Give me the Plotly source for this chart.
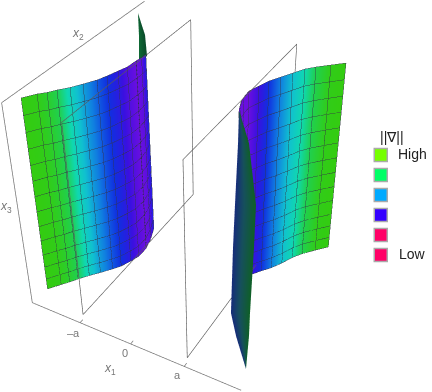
import numpy as np
import plotly.graph_objects as go

# ---- values (logical coordinates: box is [-1,1]^3, a = 0.5)
a_tick = 0.5
tick_values = [-0.5, 0.0, 0.5]
tick_labels = ["\u2013a", "0", "a"]

left_x1 = [-1.033,-0.962,-0.907,-0.862,-0.795,-0.737,-0.676,-0.642,-0.609,-0.580,-0.572,-0.562,-0.560]
left_x2 = [-0.749,-0.643,-0.589,-0.522,-0.443,-0.351,-0.247,-0.157,-0.047,0.046,0.166,0.233,0.297]
left_top = [0.9]*13
left_bot = [-1.061,-1.063,-1.052,-1.05,-1.043,-1.055,-1.068,-1.088,-1.10,-1.10,-1.09,-1.028,-0.938]
left_grad = [1.0,0.98,0.93,0.85,0.68,0.52,0.38,0.30,0.20,0.08,0.0,0.05,0.25]

right_x1 = [0.945,0.851,0.758,0.694,0.636,0.579,0.523,0.487,0.453,0.459,0.472,0.51]
right_x2 = [0.919,0.832,0.746,0.674,0.57,0.467,0.366,0.259,0.155,0.056,-0.02,-0.13]
right_top = [0.9]*12
right_bot = [-1.024,-1.036,-1.052,-1.068,-1.08,-1.08,-1.064,-1.031,-0.999,-0.952,-0.92,-0.872]
right_grad = [1.0,0.98,0.85,0.72,0.60,0.45,0.30,0.15,0.0,0.0,0.0,0.0]

row_fractions = [0,.08,.16,.24,.32,.40,.48,.56,.64,.72,.80,.87,.94,1]

fold_x1_a = [0.641,0.639,0.624,0.614,0.606,0.657,0.758]
fold_x3_a = [1.083,0.805,0.241,-0.175,-0.887,-1.129,-1.475]
fold_x1_b = [0.641,0.725,0.797,0.793,0.778,0.776,0.758]
fold_x3_b = [1.083,0.832,0.304,-0.103,-0.807,-1.07,-1.475]
fold_x2 = -0.4

tip_x1_a = [-0.881,-0.882,-0.895]
tip_x3_a = [1.035,0.824,0.574]
tip_x1_b = [-0.881,-0.819,-0.808]
tip_x3_b = [1.035,0.839,0.635]
tip_x2 = 0.7

legend_colors = ["#76ff00", "#00ff66", "#00aaff", "#3300ff", "#ff0066", "#ff0066"]
legend_labels = ["High", "", "", "", "", "Low"]
legend_rank = [5, 4, 3, 2, 1, 0]

# ---- view of the box
cam_rot = (-0.52776, -4.12113, -0.02129)
cam_t = np.array([0.05056, 0.26334, 7.3422])
cam_f, cam_cx, cam_cy = 884.39123, 182.9741, 148.68024
W, H = 432, 392
fp = (H / 2) / np.tan(np.pi / 8)
k = 2 / cam_t[2]

def _rot(a, b, c):
    ca, sa, cb, sb, cc, sc = np.cos(a), np.sin(a), np.cos(b), np.sin(b), np.cos(c), np.sin(c)
    Rz = np.array([[ca, -sa, 0], [sa, ca, 0], [0, 0, 1]])
    Rx = np.array([[1, 0, 0], [0, cb, -sb], [0, sb, cb]])
    Rr = np.array([[cc, -sc, 0], [sc, cc, 0], [0, 0, 1]])
    return Rr @ Rx @ Rz
R = _rot(*cam_rot)

def scene_xyz(x1, x2, x3, nudge=1.0):
    P = np.stack([np.asarray(x1, float), np.asarray(x2, float), np.asarray(x3, float)], -1)
    C = (P @ R.T + cam_t) * nudge
    X = (k / fp) * (cam_f * C[..., 0] + (cam_cx - W / 2) * C[..., 2])
    Y = -(k / fp) * (cam_f * C[..., 1] + (cam_cy - H / 2) * C[..., 2])
    Z = 2 - k * C[..., 2]
    return X, Y, Z

sheet_scale = [[0, "#6a0fe0"], [.15, "#3a10e0"], [.3, "#1030e0"], [.45, "#1080e0"],
               [.6, "#10c0d0"], [.72, "#10d8b0"], [.85, "#20d050"], [1, "#33cc11"]]
FLAT = dict(ambient=1, diffuse=0, specular=0, roughness=1, fresnel=0)

def surf(x1, x2, x3, c, scale, cmin=0, cmax=1, **kw):
    X, Y, Z = scene_xyz(x1, x2, x3)
    return go.Surface(x=X, y=Y, z=Z, surfacecolor=c, colorscale=scale, cmin=cmin, cmax=cmax,
                      showscale=False, lighting=FLAT, hoverinfo="skip", **kw)

def sheet_grid(x1, x2, top, bot, grad):
    f = np.array(row_fractions)[:, None]
    x1, x2, top, bot, grad = map(np.array, (x1, x2, top, bot, grad))
    n = len(f)
    return (np.tile(x1, (n, 1)), np.tile(x2, (n, 1)), top + (bot - top) * f, np.tile(grad, (n, 1)))

def mesh_lines(g1, g2, g3):
    xs, ys, zs = [], [], []
    for A, B, C in ((g1, g2, g3), (g1.T, g2.T, g3.T)):
        for i in range(A.shape[0]):
            X, Y, Z = scene_xyz(A[i], B[i], C[i], nudge=0.997)
            xs += list(X) + [None]; ys += list(Y) + [None]; zs += list(Z) + [None]
    return go.Scatter3d(x=xs, y=ys, z=zs, mode="lines", hoverinfo="skip",
                        line=dict(color="rgba(45,45,60,0.85)", width=1))

def seg_trace(points, color="#777777", width=1.5, dash=None, nudge=0.995):
    xs, ys, zs = [], [], []
    for chain in points:
        c = np.array(chain, float)
        X, Y, Z = scene_xyz(c[:, 0], c[:, 1], c[:, 2], nudge=nudge)
        xs += list(X) + [None]; ys += list(Y) + [None]; zs += list(Z) + [None]
    line = dict(color=color, width=width)
    if dash: line["dash"] = dash
    return go.Scatter3d(x=xs, y=ys, z=zs, mode="lines", hoverinfo="skip", line=line)

fig = go.Figure()

# sheets
gl = sheet_grid(left_x1, left_x2, left_top, left_bot, left_grad)
gr = sheet_grid(right_x1, right_x2, right_top, right_bot, right_grad)
fig.add_trace(surf(*gl, sheet_scale))
fig.add_trace(surf(*gr, sheet_scale))
fig.add_trace(mesh_lines(*gl[:3]))
fig.add_trace(mesh_lines(*gr[:3]))

# fold pieces
fa, fb = np.array(fold_x1_a), np.array(fold_x1_b)
fig.add_trace(surf(np.stack([fa, fb], 1), np.full((7, 2), fold_x2),
                   np.stack([fold_x3_a, fold_x3_b], 1),
                   np.tile([0.0, 1.0], (7, 1)), [[0, "#162c7a"], [.45, "#16505c"], [1, "#0f6026"]]))
ta, tb = np.array(tip_x1_a), np.array(tip_x1_b)
fig.add_trace(surf(np.stack([ta, tb], 1), np.full((3, 2), tip_x2),
                   np.stack([tip_x3_a, tip_x3_b], 1),
                   np.tile([0.0, 1.0], (3, 1)), [[0, "#0f6a35"], [1, "#0a4a2a"]]))

# dashed seam on the left sheet
seam = [[(left_x1[10], left_x2[10], left_top[10]), (left_x1[10], left_x2[10], left_bot[10])]]
fig.add_trace(seg_trace(seam, color="#2a2a50", width=2, dash="dash", nudge=0.996))

# planes x1 = +-a
pl = 0.95
planes = []
for s in (-a_tick, a_tick):
    planes.append([(s, -pl, -pl), (s, -pl, pl), (s, pl, pl), (s, pl, -pl), (s, -pl, -pl)])
fig.add_trace(seg_trace(planes, color="#5a5a5a", width=1.3, nudge=1.0))

# box edges and ticks
box = [[(-1, -1, -1), (-1, -1, 1), (-1, 1, 1)], [(-1, -1, -1), (1, -1, -1)]]
ticks = [[(v, -1, -1), (v, -0.96, -1)] for v in tick_values]
fig.add_trace(seg_trace(box + ticks, color="#777777", width=1.5, nudge=1.0))

# legend swatches
fig.add_trace(go.Scatter(x=[0]*6, y=legend_rank, mode="markers", xaxis="x", yaxis="y",
                         hoverinfo="skip",
                         marker=dict(symbol="square", size=13, color=legend_colors,
                                     line=dict(color="#aaaaaa", width=1.5))))

AX3 = dict(visible=False, range=[-2, 2], showgrid=False, zeroline=False,
           showbackground=False, showspikes=False, autorange=False)
fig.update_layout(
    width=W, height=H, margin=dict(l=0, r=0, t=0, b=0), autosize=False, showlegend=False,
    paper_bgcolor="white", plot_bgcolor="rgba(0,0,0,0)",
    scene=dict(domain=dict(x=[0, 1], y=[0, 1]), aspectmode="manual",
               aspectratio=dict(x=4, y=4, z=4), xaxis=AX3, yaxis=AX3, zaxis=AX3,
               camera=dict(eye=dict(x=0, y=0, z=2), center=dict(x=0, y=0, z=0),
                           up=dict(x=0, y=1, z=0), projection=dict(type="perspective")),
               dragmode=False),
    xaxis=dict(domain=[0.8, 1.0], range=[-35/86, 51/86], visible=False, fixedrange=True),
    yaxis=dict(domain=[0, 1], range=[-6.85, 12.75], visible=False, fixedrange=True),
)

def note(text, px, py, size, color="#777777"):
    fig.add_annotation(xref="paper", yref="paper", x=px / W, y=1 - py / H, text=text, showarrow=False,
                       xanchor="center", yanchor="middle",
                       font=dict(family="Liberation Sans", size=size, color=color))

for lab, px, py in zip(tick_labels, (73, 125, 177), (333, 353, 375)):
    note(lab, px, py, 11)
note("<i>x</i><sub>1</sub>", 110, 369, 12)
note("<i>x</i><sub>2</sub>", 78, 34, 12)
note("<i>x</i><sub>3</sub>", 6, 207, 12)
note("||\u2207||", 392, 137, 14, "#222222")
for lab, r in zip(legend_labels, legend_rank):
    if lab:
        note(lab, 412, 155 + (5 - r) * 20 - 1, 14, "#222222")

fig.write_html("out.html", config=dict(displayModeBar=False),
               post_script="document.body.style.margin='0';")
